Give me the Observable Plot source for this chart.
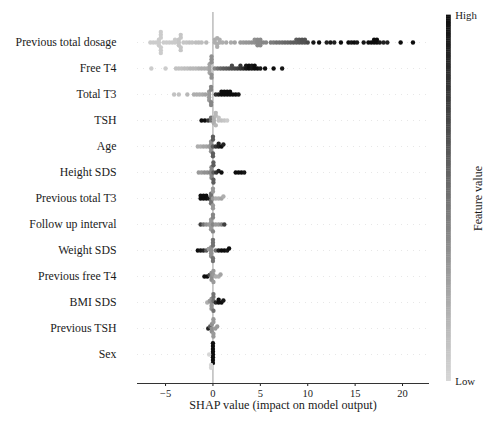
<!DOCTYPE html>
<html><head><meta charset="utf-8">
<script src="https://cdn.jsdelivr.net/npm/d3@7"></script>
<script src="https://cdn.jsdelivr.net/npm/@observablehq/plot@0.6"></script>
<style>
body{margin:0;background:#fff;}
#wrap{position:relative;width:500px;height:429px;}
#wrap svg{position:absolute;top:0;}
</style></head><body><div id="wrap"></div>
<script>
const features = ["Previous total dosage","Free T4","Total T3","TSH","Age","Height SDS","Previous total T3","Follow up interval","Weight SDS","Previous free T4","BMI SDS","Previous TSH","Sex"];
const xTicks = [-5,0,5,10,15,20];
const xLabel = "SHAP value (impact on model output)";
const colorbarLabels = {high:"High", low:"Low", title:"Feature value"};

// [shap value, feature value (0 low .. 1 high), number of dots]
const prevTotalDosage = [[-6.6,0.05,1],[-6.3,0.05,1],[-6.0,0.05,1],[-5.7,0.05,3],[-5.5,0.05,6],[-5.2,0.05,1],[-4.9,0.05,1],[-4.6,0.05,1],
  [-4.3,0.06,1],[-4.0,0.06,2],[-3.6,0.08,3],[-3.4,0.08,4],[-3.1,0.08,1],[-2.8,0.08,1],[-2.5,0.1,1],
  [-2.2,0.1,1],[-1.8,0.12,1],[-1.5,0.12,1],[-1.2,0.12,1],[-0.7,0.15,1],[0.2,0.2,2],[0.45,0.2,3],[0.7,0.2,2],[1.0,0.2,1],[1.4,0.22,1],[1.9,0.22,1],[2.3,0.25,1],
  [2.9,0.3,1],[3.2,0.3,1],[3.5,0.32,1],[3.8,0.32,1],[4.1,0.35,1],[4.4,0.35,2],[4.7,0.38,3],[5.0,0.38,3],[5.3,0.4,1],[5.6,0.4,1],
  [6.1,0.45,1],[6.4,0.45,1],[6.7,0.5,1],[7.0,0.5,1],[7.3,0.52,1],[7.6,0.55,1],[7.9,0.55,1],[8.2,0.58,1],[8.5,0.6,1],[8.8,0.6,2],[9.1,0.62,2],[9.4,0.65,2],[9.7,0.65,2],[10.0,0.7,1],
  [10.6,0.95,1],[11.2,1,1],[12.0,0.9,1],[12.4,0.95,1],[12.8,0.9,1],[13.5,1,1],[14.3,1,1],[14.6,0.95,1],[14.9,1,1],[15.2,0.95,1],
  [15.9,0.95,1],[16.4,1,1],[16.7,1,1],[17.0,1,2],[17.3,1,2],[17.6,0.95,1],[18.0,0.9,1],[18.4,0.9,1],[19.8,1,1],[21.1,1,1]];
const freeT4 = [[-6.5,0.05,1],[-5.0,0.05,1],[-3.9,0.1,1],[-3.6,0.1,1],[-3.3,0.1,1],[-3.0,0.12,1],[-2.7,0.12,1],[-2.4,0.15,1],
  [-2.1,0.15,1],[-1.8,0.15,1],[-1.5,0.18,1],[-1.2,0.2,1],[-0.9,0.2,1],[-0.6,0.2,1],[-0.35,0.25,4],[-0.15,0.35,5],
  [0.2,0.4,1],[0.5,0.5,1],[0.8,0.55,1],[1.1,0.6,1],[1.4,0.62,1],[1.7,0.65,1],[2.0,0.7,2],[2.3,0.72,1],[2.6,0.75,1],[2.9,0.8,2],
  [3.2,0.85,1],[3.5,0.95,2],[3.8,1,2],[4.1,0.95,2],[4.4,1,2],[4.7,1,1],[5.0,0.95,1],[5.5,1,1],[6.4,1,1],[7.3,0.95,1]];
const totalT3 = [[-4.1,0.1,1],[-3.6,0.1,1],[-2.7,0.15,1],[-2.0,0.2,1],[-1.7,0.2,1],[-1.4,0.2,1],[-1.1,0.22,1],[-0.8,0.25,1],
  [-0.4,0.3,4],[-0.2,0.4,4],[0.3,0.8,1],[0.6,0.9,1],[0.9,1,2],[1.2,1,2],[1.5,1,2],[1.8,1,2],[2.1,1,1],[2.4,1,1],[2.7,0.95,1]];
const tsh = [[-1.2,1,1],[-0.85,1,1],[-0.5,0.8,1],[-0.2,0.5,2],[0.1,0.2,3],[0.3,0.15,3],[0.6,0.1,2],[0.9,0.1,1],[1.2,0.08,1],[1.5,0.05,1]];
const age = [[-1.6,0.2,1],[-1.3,0.2,1],[-1.0,0.25,1],[-0.7,0.25,1],[-0.4,0.3,1],[-0.2,0.35,4],[0,0.6,5],[0.3,0.8,1],[0.6,0.9,2],[0.9,1,1],[1.1,0.9,1]];
const heightSDS = [[-1.5,0.3,1],[-1.2,0.3,1],[-0.9,0.35,1],[-0.6,0.35,1],[-0.3,0.4,1],[-0.15,0.4,4],[0.05,0.6,5],[0.35,0.8,1],
  [0.6,0.9,1],[0.9,1,1],[2.4,1,1],[2.7,1,1],[3.0,1,1],[3.3,0.95,1]];
const prevTotalT3 = [[-1.3,1,2],[-1.0,1,2],[-0.7,1,2],[-0.4,0.95,1],[-0.2,0.5,4],[0,0.3,5],[0.3,0.2,1],[0.6,0.2,1],[0.9,0.25,1],[1.1,0.2,1]];
const followUp = [[-1.3,0.75,1],[-1.0,0.5,1],[-0.7,0.35,1],[-0.4,0.3,1],[-0.2,0.3,4],[0,0.4,4],[0.3,0.3,1],[0.6,0.3,1],[0.9,0.4,1],[1.2,0.75,1]];
const weightSDS = [[-1.6,1,1],[-1.3,0.95,1],[-1.0,0.9,1],[-0.7,0.6,1],[-0.45,0.3,1],[-0.2,0.35,4],[0,0.5,5],[0.3,0.5,1],
  [0.6,0.9,1],[0.9,1,1],[1.2,1,1],[1.5,0.95,1],[1.7,1,1]];
const prevFreeT4 = [[-0.9,1,1],[-0.6,1,1],[-0.35,0.7,1],[-0.15,0.35,3],[0.05,0.3,3],[0.3,0.2,1],[0.6,0.2,1],[0.8,0.25,1]];
const bmiSDS = [[-0.6,0.2,1],[-0.35,0.3,1],[-0.15,0.35,4],[0.05,0.5,4],[0.3,0.85,1],[0.6,1,2],[0.9,1,1],[1.1,0.95,1]];
const prevTSH = [[-0.5,0.9,1],[-0.3,0.6,1],[-0.12,0.35,3],[0.05,0.3,4],[0.25,0.3,1],[0.45,0.3,1]];
const sex = [[0,1,8],[-0.4,0,1],[-0.2,0,2]];

const rows = {"Previous total dosage":prevTotalDosage,"Free T4":freeT4,"Total T3":totalT3,"TSH":tsh,"Age":age,
  "Height SDS":heightSDS,"Previous total T3":prevTotalT3,"Follow up interval":followUp,"Weight SDS":weightSDS,
  "Previous free T4":prevFreeT4,"BMI SDS":bmiSDS,"Previous TSH":prevTSH,"Sex":sex};

const points = [];
for (const f of features) for (const [shap, value, n] of rows[f]) for (let k = 0; k < n; k++) points.push({feature:f, shap, value});

const color = {type:"linear", domain:[0,1], range:["#d6d6d6","#0d0d0d"], interpolate:"rgb"};
const font = "'Liberation Serif', 'DejaVu Serif', serif";
const layout = {width:500, height:429, marginLeft:137, marginRight:72, marginTop:12, marginBottom:46};
const xDomain = [-7.96,22.74];

// background layer: zero line, x axis and bottom spine
const bg = Plot.plot({
  ...layout,
  style:{fontFamily:font, fontSize:"12px", color:"#1a1a1a", background:"transparent"},
  x:{domain:xDomain},
  marks:[
    Plot.ruleX([0], {stroke:"#999999", strokeWidth:1}),
    Plot.axisX({ticks:xTicks, tickSize:3, tickPadding:3, fontSize:10.5, label:null}),
    Plot.text([xLabel], {frameAnchor:"bottom", dy:25, fontSize:12.2}),
    Plot.frame({anchor:"bottom", stroke:"#333"})
  ]
});
bg.style.left = "0px";

// dots layer, one facet per feature
const main = Plot.plot({
  ...layout,
  style:{fontFamily:font, fontSize:"11.8px", color:"#1a1a1a", background:"transparent"},
  x:{domain:xDomain, axis:null},
  y:{domain:[-1,1], axis:null},
  fy:{domain:features, paddingInner:0, paddingOuter:0.607, axis:"left", tickSize:0, tickPadding:21, label:null},
  color,
  marks:[
    Plot.ruleY([0], {stroke:"#dddddd", strokeWidth:0.7, strokeDasharray:"1,5"}),
    Plot.dot(points, Plot.dodgeY({anchor:"middle", padding:-1.6}, {x:"shap", fy:"feature", fill:"value", r:2.2}))
  ]
});
main.style.left = "0px";

const barSteps = d3.range(0, 1, 0.005);
const cbar = Plot.plot({
  width:60, height:429, margin:0,
  style:{fontFamily:font, color:"#1a1a1a", background:"transparent"},
  x:{domain:[0,1], range:[6,10.8], axis:null},
  y:{domain:[0,1], range:[381,15], axis:null},
  color,
  marks:[
    Plot.rect(barSteps, {x1:0, x2:1, y1:d=>d, y2:d=>d+0.006, fill:d=>d}),
    Plot.text([colorbarLabels.high], {x:1, y:1, dx:4, textAnchor:"start", fontSize:10.8}),
    Plot.text([colorbarLabels.low], {x:1, y:0, dx:4, textAnchor:"start", fontSize:10.8}),
    Plot.text([colorbarLabels.title], {x:1, y:0.5, dx:27, rotate:-90, fontSize:12})
  ]
});
cbar.style.left = "440px";

document.getElementById("wrap").append(bg, main, cbar);
</script></body></html>
